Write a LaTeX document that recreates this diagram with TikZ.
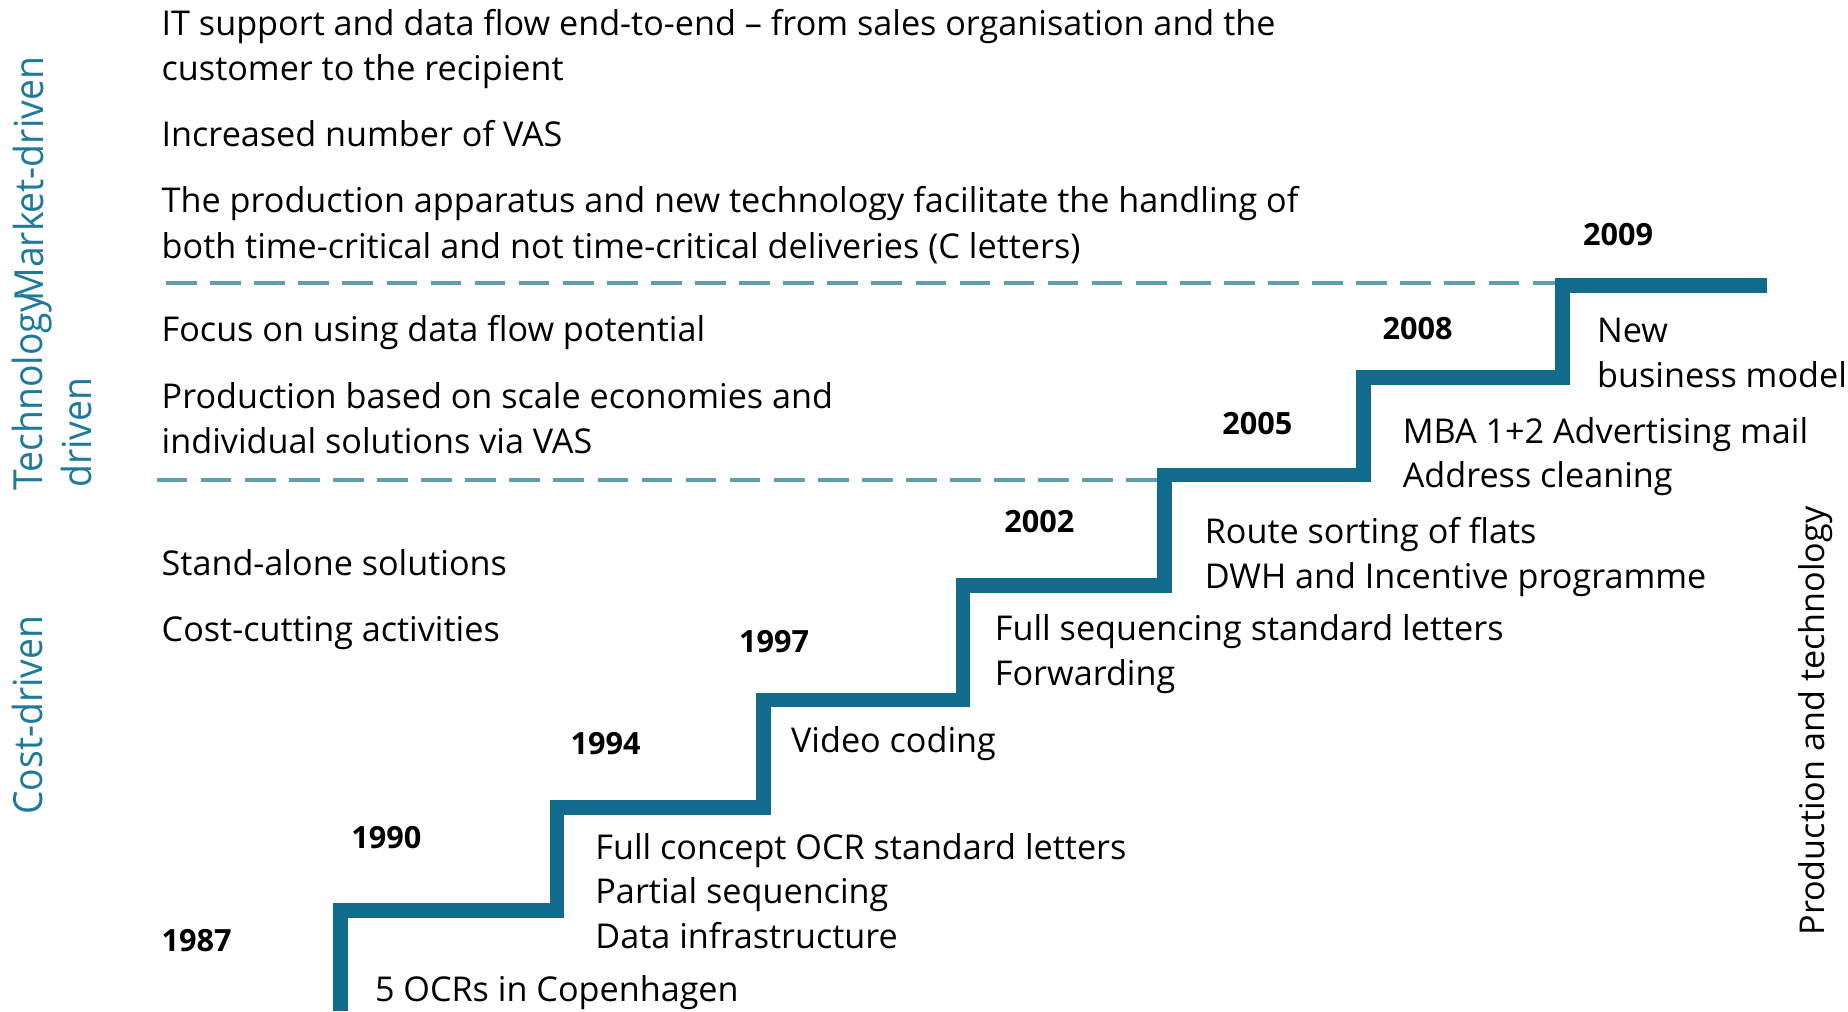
\documentclass[tikz,border=0pt]{standalone}
\usepackage{fontspec}
\setmainfont{Open Sans}
\definecolor{stairblue}{HTML}{116B8C}
\definecolor{dashblue}{HTML}{5F9EAD}
\definecolor{labelblue}{HTML}{1E7A9B}
\begin{document}
\begin{tikzpicture}[x=1pt,y=-1pt,
  txt/.style={anchor=base west, inner sep=0pt, font=\fontsize{29}{34}\selectfont, text=black},
  yr/.style={anchor=base west, inner sep=0pt, font=\fontsize{26}{31}\selectfont\bfseries, text=black},
  side/.style={anchor=base west, inner sep=0pt, rotate=90, font=\fontsize{34}{40}\selectfont, text=labelblue},
  stairs/.style={draw=stairblue, line width=12.5pt, line join=miter},
  level/.style={draw=dashblue, line width=3.5pt, dash pattern=on 26pt off 11.4pt}]
\fill[white] (0,0) rectangle (1568,858);
\useasboundingbox (0,0) rectangle (1568,858);

% driver statements
\node[txt] (t1a) at (137,30) {IT support and data flow end-to-end – from sales organisation and the};
\node[txt] (t1b) at (137,68) {customer to the recipient};
\node[txt] (t2) at (137,124.5) {Increased number of VAS};
\node[txt] (t3a) at (137,180.5) {The production apparatus and new technology facilitate the handling of};
\node[txt] (t3b) at (137,219) {both time-critical and not time-critical deliveries (C letters)};
\node[txt] (t4) at (137,290) {Focus on using data flow potential};
\node[txt] (t5a) at (137,346.5) {Production based on scale economies and};
\node[txt] (t5b) at (137,385) {individual solutions via VAS};
\node[txt] (t6) at (137,488) {Stand-alone solutions};
\node[txt] (t7) at (137,544) {Cost-cutting activities};

% borders between the phases
\coordinate (m1) at (141,240);
\coordinate (m2) at (1326,240);
\coordinate (c1) at (133,407);
\coordinate (c2) at (982,407);
\draw[level] (m1) -- (m2);
\draw[level] (c1) -- (c2);

% phase labels
\node[side] (mkt) at (36.7,256) {\scalebox{0.93}[1]{Market-driven}};
\node[side] (tech1) at (36,416) {\scalebox{0.93}[1]{Technology}};
\node[side] (tech2) at (77.7,414) {\scalebox{0.93}[1]{driven}};
\node[side] (cost) at (36,691.5) {\scalebox{0.93}[1]{Cost-driven}};
\node[side, font=\fontsize{29}{34}\selectfont, text=black] (prod) at (1548,794) {Production and technology};

% the staircase
\draw[stairs] (289,858) -- (289,772.5) -- (472.5,772.5) -- (472.5,685) -- (648,685)
  -- (648,594) -- (817,594) -- (817,497) -- (988,497) -- (988,403) -- (1157,403)
  -- (1157,320) -- (1326,320) -- (1326,242.4) -- (1499,242.4);

% years
\node[yr] (y87) at (137,807) {1987};
\node[yr] (y90) at (298,720) {1990};
\node[yr] (y94) at (484,640) {1994};
\node[yr] (y97) at (627,554) {1997};
\node[yr] (y02) at (852,452) {2002};
\node[yr] (y05) at (1037,369) {2005};
\node[yr] (y08) at (1173,288) {2008};
\node[yr] (y09) at (1343,208) {2009};

% milestones on each step
\node[txt] (s87) at (318,850) {5 OCRs in Copenhagen};
\node[txt] (s90a) at (505,729) {Full concept OCR standard letters};
\node[txt] (s90b) at (505,767) {Partial sequencing};
\node[txt] (s90c) at (505,805) {Data infrastructure};
\node[txt] (s94) at (671,638.6) {Video coding};
\node[txt] (s97a) at (844,543.6) {Full sequencing standard letters};
\node[txt] (s97b) at (844,581.5) {Forwarding};
\node[txt] (s02a) at (1022,461) {Route sorting of flats};
\node[txt] (s02b) at (1022,499) {DWH and Incentive programme};
\node[txt] (s05a) at (1190,376) {MBA 1+2 Advertising mail};
\node[txt] (s05b) at (1190,414) {Address cleaning};
\node[txt] (s08a) at (1355,291) {New};
\node[txt] (s08b) at (1355,328.6) {business model};
\end{tikzpicture}
\end{document}
